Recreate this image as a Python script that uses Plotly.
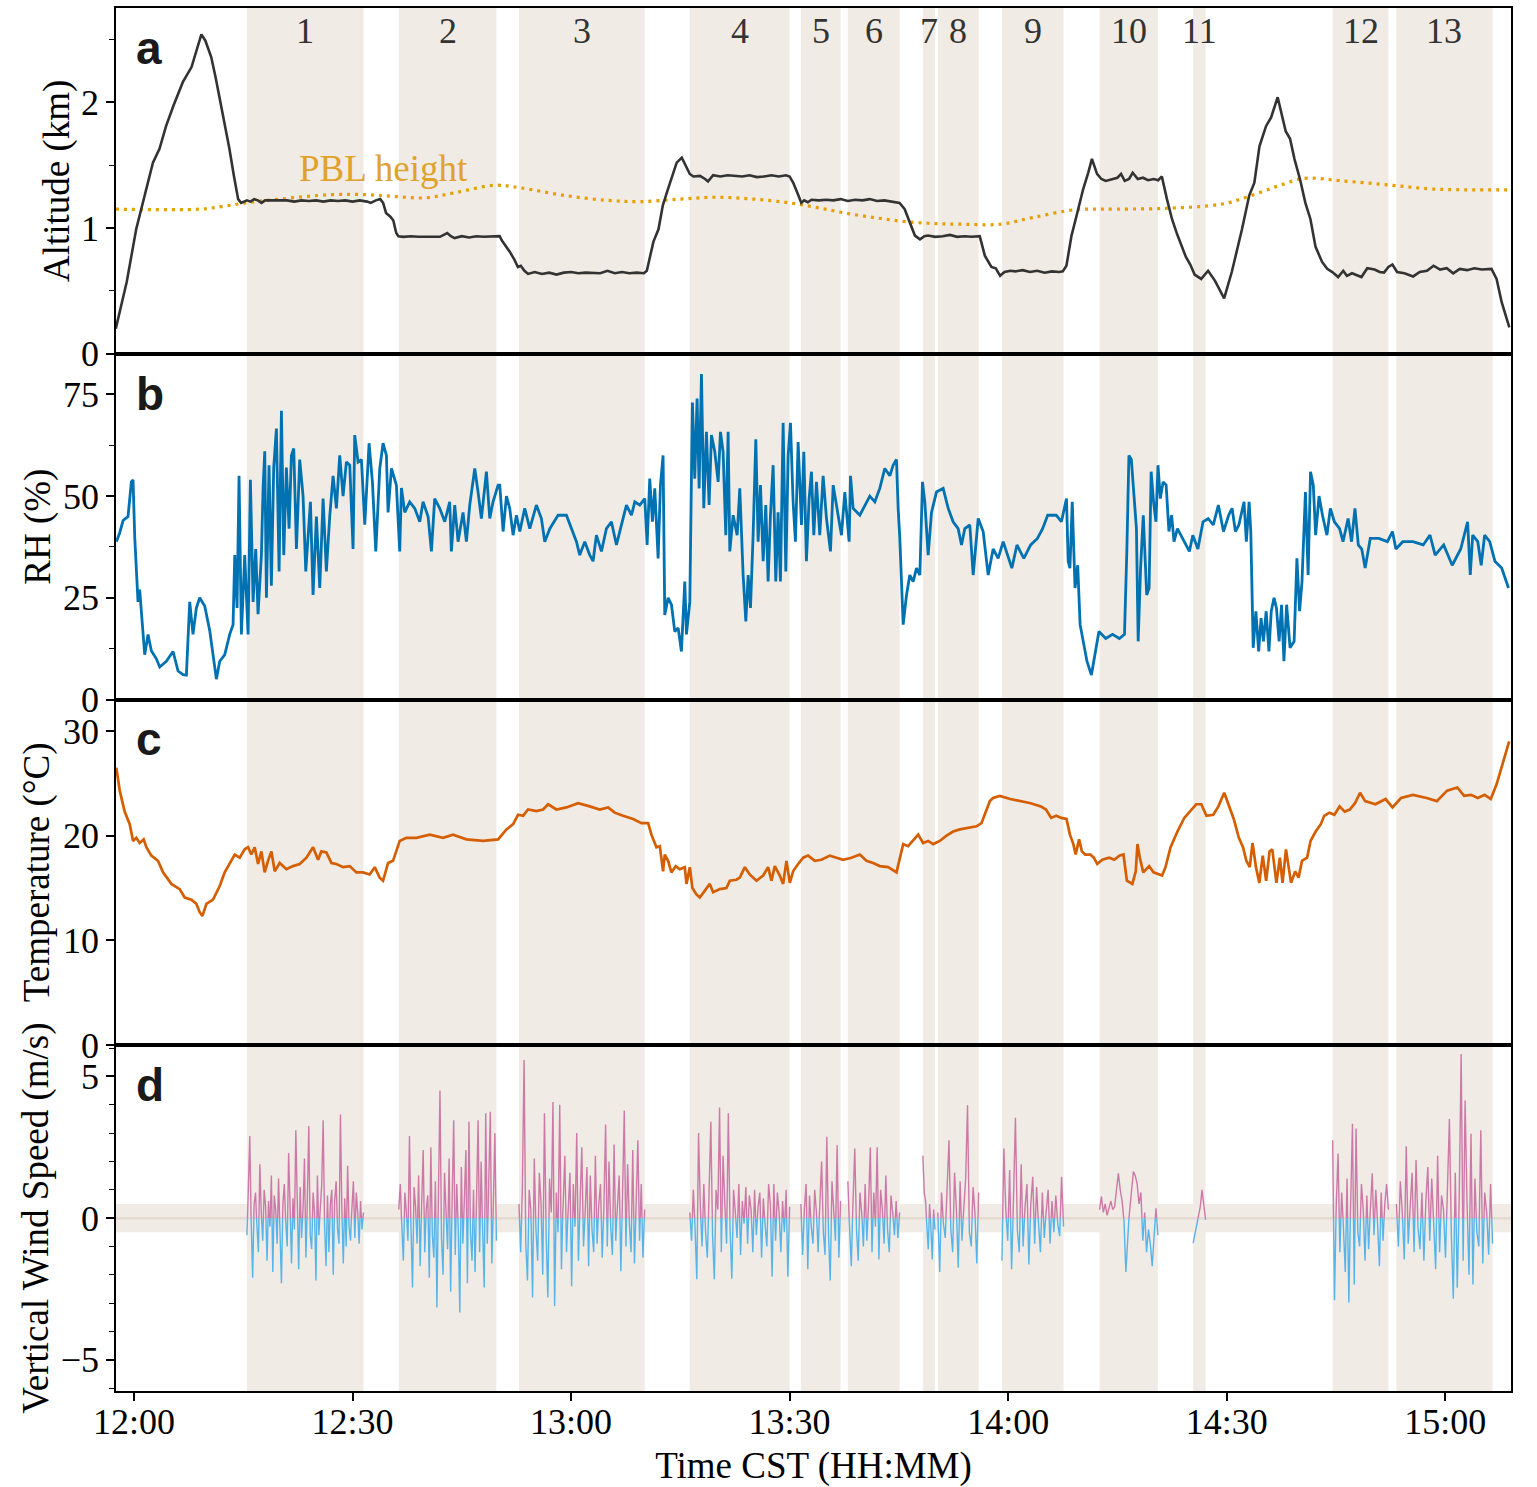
import numpy as np
import plotly.graph_objects as go
from plotly.subplots import make_subplots

# ---------------- data (time in minutes after 12:00 CST) ----------------
tick_vals = [0, 30, 60, 90, 120, 150, 180]
tick_text = ["12:00", "12:30", "13:00", "13:30", "14:00", "14:30", "15:00"]

region_labels = ["1", "2", "3", "4", "5", "6", "7", "8", "9", "10", "11", "12", "13"]
region_start = [15.5, 36.35, 52.85, 76.3, 91.55, 98.0, 108.3, 110.35, 119.15, 132.55, 145.4, 164.55, 173.3]
region_end = [31.5, 49.75, 70.1, 90.0, 97.0, 105.1, 109.95, 115.95, 127.6, 140.55, 147.1, 172.2, 186.5]

alt_t = [-2.5, -2.0, -1.0, 0.3, 1.0, 1.7, 2.6, 3.5, 4.4, 5.4, 6.0, 6.7, 7.9, 8.6, 9.25, 9.8, 10.6, 11.2, 11.8,
         12.5, 13.1, 13.7, 14.3, 14.7, 15.0, 15.5, 16.0, 16.5, 17.0, 17.5, 18.0, 19, 20, 21, 22, 23, 24, 25, 26,
         27, 28, 29, 30, 31, 32, 32.5, 33.2, 33.8, 34.2, 34.6, 35.2, 35.6, 36.0, 36.3, 37, 38, 39, 40, 41, 42,
         43, 43.5, 44, 45, 46, 47, 48, 49, 50.2, 50.5, 51.0, 51.6, 52.2, 52.7, 53.1, 53.6, 54.1, 55, 56, 57, 58,
         59, 60, 61, 62, 63, 64, 65, 66, 67, 68, 69, 70.0, 70.4, 70.8, 71.3, 72.0, 72.6, 73.3, 73.8, 74.5, 75.2,
         75.8, 76.3, 76.8, 77.7, 78.4, 78.8, 79.5, 80.5, 81.5, 82.5, 83.5, 84.5, 85.5, 86.5, 87.5, 88.5, 89.5,
         90.0, 90.5, 91.2, 91.6, 92.0, 92.5, 93, 94, 95, 96, 97, 98, 99, 100, 101, 102, 103, 104, 105.1, 105.8,
         106.5, 107.2, 107.9, 108.5, 109, 110, 111, 112, 113, 114, 115, 116.1, 116.8, 117.2, 117.7, 118.3, 118.9,
         119.5, 120.3, 121, 122, 123, 124, 125, 126, 127, 127.5, 128.0, 128.7, 129.4, 130.3, 131.0, 131.5, 132.2,
         132.8, 133.4, 134.2, 135.0, 135.5, 136.0, 136.6, 137.1, 137.8, 138.5, 139.2, 140, 140.6, 141.1, 141.8,
         142.5, 143.2, 144.4, 145.0, 145.6, 146.5, 147.45, 148.4, 149.0, 149.65, 150.7, 151.4, 152.1, 153.1,
         153.8, 154.5, 155.4, 156.1, 157.0, 158.1, 158.7, 159.3, 160.1, 160.8, 161.5, 162.2, 163.1, 163.8, 164.5,
         165.3, 166, 166.5, 167.2, 168.5, 169.3, 170.3, 171.0, 171.6, 172.2, 172.75, 173.4, 174.4, 175.6, 176.5,
         177.5, 178.4, 179.3, 180.2, 181.1, 182.0, 183.0, 184, 185, 186.35, 187.05, 187.75, 188.8]
alt_km = [0.2, 0.33, 0.57, 0.99, 1.15, 1.31, 1.52, 1.63, 1.81, 1.97, 2.06, 2.16, 2.28, 2.42, 2.54, 2.49, 2.36, 2.20,
          2.02, 1.82, 1.63, 1.42, 1.23, 1.20, 1.21, 1.22, 1.21, 1.23, 1.22, 1.20, 1.22, 1.22, 1.215, 1.22, 1.21,
          1.22, 1.215, 1.22, 1.21, 1.22, 1.215, 1.22, 1.21, 1.22, 1.21, 1.20, 1.22, 1.23, 1.20, 1.12, 1.09, 1.06,
          0.96, 0.935, 0.93, 0.935, 0.93, 0.93, 0.935, 0.93, 0.96, 0.935, 0.92, 0.935, 0.925, 0.935, 0.93, 0.935,
          0.935, 0.90, 0.86, 0.81, 0.75, 0.69, 0.70, 0.66, 0.635, 0.65, 0.635, 0.645, 0.63, 0.645, 0.65, 0.64,
          0.645, 0.64, 0.64, 0.66, 0.64, 0.65, 0.64, 0.645, 0.64, 0.66, 0.76, 0.89, 0.99, 1.18, 1.31, 1.40, 1.52,
          1.56, 1.49, 1.43, 1.41, 1.415, 1.39, 1.37, 1.42, 1.41, 1.42, 1.415, 1.41, 1.42, 1.405, 1.41, 1.42, 1.41,
          1.42, 1.41, 1.36, 1.26, 1.20, 1.22, 1.205, 1.225, 1.22, 1.225, 1.22, 1.23, 1.215, 1.225, 1.22, 1.23,
          1.215, 1.22, 1.21, 1.20, 1.15, 1.045, 0.94, 0.91, 0.935, 0.94, 0.93, 0.935, 0.945, 0.93, 0.935, 0.93,
          0.935, 0.78, 0.74, 0.69, 0.68, 0.62, 0.65, 0.66, 0.655, 0.665, 0.65, 0.66, 0.645, 0.655, 0.65, 0.655,
          0.70, 0.94, 1.10, 1.31, 1.44, 1.55, 1.43, 1.39, 1.375, 1.39, 1.40, 1.43, 1.375, 1.39, 1.44, 1.39, 1.40,
          1.38, 1.39, 1.38, 1.41, 1.23, 1.07, 0.95, 0.77, 0.71, 0.63, 0.595, 0.66, 0.58, 0.51, 0.44, 0.65, 0.82,
          0.99, 1.26, 1.36, 1.65, 1.81, 1.88, 2.04, 1.77, 1.71, 1.55, 1.38, 1.20, 1.07, 0.85, 0.73, 0.675, 0.65,
          0.61, 0.66, 0.62, 0.64, 0.61, 0.68, 0.67, 0.65, 0.645, 0.69, 0.71, 0.65, 0.64, 0.615, 0.65, 0.66, 0.70,
          0.67, 0.68, 0.64, 0.675, 0.665, 0.68, 0.67, 0.675, 0.595, 0.41, 0.21]

pbl_t = [-2.5, 9.0, 12, 15.4, 20, 27, 32, 36, 40, 44, 49.5, 53, 59, 65, 69.5, 75, 80, 85, 90, 94, 98, 102, 106,
         110, 114, 118.9, 123.5, 129.2, 132.9, 141.35, 149.3, 152.6, 156.35, 159.2, 161.05, 165.7, 172.75, 178.4,
         189.0]
pbl_km = [1.15, 1.15, 1.17, 1.20, 1.23, 1.265, 1.265, 1.25, 1.24, 1.28, 1.34, 1.32, 1.26, 1.22, 1.21, 1.23,
          1.245, 1.23, 1.20, 1.16, 1.115, 1.08, 1.05, 1.035, 1.03, 1.03, 1.085, 1.146, 1.15, 1.156, 1.19, 1.243,
          1.32, 1.376, 1.397, 1.376, 1.34, 1.31, 1.304]

rh_t = [-2.42, -1.96, -1.50, -0.82, -0.36, -0.13, 0.10, 0.33, 0.55, 0.78, 1.15, 1.47, 1.93, 2.38, 3.07, 3.53,
        4.44, 5.36, 6.05, 6.73, 7.19, 7.65, 8.10, 8.56, 9.02, 9.71, 10.39, 11.31, 11.77, 12.45, 13.14, 13.60,
        13.83, 14.15, 14.42, 14.74, 15.20, 15.66, 15.98, 16.35, 16.71, 17.03, 17.49, 17.72, 17.95, 18.18, 18.54,
        18.86, 19.18, 19.55, 19.92, 20.24, 20.56, 20.92, 21.29, 21.61, 21.93, 22.30, 22.75, 23.21, 23.58, 23.90,
        24.22, 24.58, 25.04, 25.50, 25.96, 26.41, 26.87, 27.33, 27.79, 28.24, 28.70, 29.16, 29.62, 30.07, 30.30,
        30.76, 31.22, 31.68, 32.27, 32.73, 33.19, 33.74, 34.19, 34.65, 34.88, 35.34, 36.02, 36.48, 36.71, 37.17,
        37.85, 38.54, 39.23, 39.68, 40.37, 40.83, 41.28, 41.97, 42.66, 43.34, 43.57, 44.03, 44.49, 45.17, 45.63,
        46.09, 46.78, 47.23, 47.69, 48.38, 48.84, 49.29, 49.98, 50.21, 50.67, 51.13, 51.58, 52.04, 52.50, 52.96,
        53.64, 54.33, 55.24, 55.93, 56.39, 57.08, 58.22, 59.36, 60.05, 60.74, 61.19, 61.88, 62.57, 63.02, 63.48,
        64.17, 64.85, 65.54, 66.23, 66.91, 67.60, 68.29, 68.75, 69.43, 70.12, 70.44, 70.80, 71.17, 71.49, 71.95,
        72.27, 72.63, 72.86, 73.32, 73.78, 74.24, 74.70, 75.15, 75.61, 75.84, 76.30, 76.66, 76.98, 77.30, 77.58,
        77.90, 78.22, 78.58, 78.95, 79.27, 79.73, 80.19, 80.51, 80.87, 81.24, 81.56, 81.79, 82.25, 82.80, 83.16,
        83.62, 83.99, 84.31, 84.63, 84.99, 85.36, 85.68, 86.00, 86.37, 86.73, 87.05, 87.37, 87.74, 88.10, 88.42,
        88.74, 89.11, 89.48, 89.80, 90.12, 90.48, 90.80, 91.17, 91.63, 91.95, 92.31, 92.68, 93.00, 93.32, 93.69,
        94.14, 94.60, 95.06, 95.61, 95.98, 96.66, 97.12, 97.58, 98.17, 98.36, 98.72, 99.64, 100.32, 101.01,
        101.70, 102.38, 103.07, 103.76, 104.21, 104.67, 104.90, 105.13, 105.59, 106.05, 106.50, 106.96, 107.42,
        107.88, 108.24, 108.56, 109.02, 109.48, 110.16, 111.08, 111.77, 112.45, 113.14, 113.60, 114.05, 114.74,
        115.20, 115.89, 116.57, 117.26, 117.94, 118.63, 119.32, 120.51, 121.21, 122.15, 123.09, 124.02, 124.73,
        125.43, 126.60, 127.31, 128.01, 128.24, 128.48, 128.80, 129.18, 129.55, 129.88, 130.35, 130.82, 131.43,
        131.99, 132.46, 133.40, 134.33, 135.27, 135.97, 136.30, 136.58, 136.91, 137.24, 137.61, 137.85, 138.18,
        138.55, 139.02, 139.35, 139.63, 139.96, 140.29, 140.57, 140.89, 141.27, 141.69, 142.07, 142.44, 142.77,
        143.24, 143.71, 144.41, 144.88, 145.35, 146.05, 146.75, 147.46, 148.16, 148.86, 149.56, 150.27, 150.74,
        151.20, 151.67, 152.38, 152.70, 153.08, 153.31, 153.64, 154.01, 154.39, 154.72, 155.05, 155.42, 155.80,
        156.12, 156.50, 156.83, 157.20, 157.53, 157.86, 158.23, 158.70, 159.26, 159.64, 160.01, 160.34, 160.81,
        161.18, 161.51, 161.89, 162.21, 162.68, 163.15, 163.76, 164.23, 164.79, 165.50, 165.97, 166.67, 167.14,
        167.61, 168.07, 168.54, 169.01, 169.71, 170.89, 172.06, 172.76, 173.23, 174.17, 175.57, 176.98, 177.91,
        178.62, 179.79, 180.96, 182.13, 183.07, 183.44, 183.77, 184.47, 184.94, 185.41, 186.11, 186.82, 187.75,
        188.69]
rh_pct = [38.8, 41, 44, 45, 53.5, 54, 40, 32, 24, 27, 18, 11, 16, 12, 10, 8, 9.4, 11.8, 7, 6.1, 6, 24, 16, 22.5,
          25, 23, 17, 5, 9.4, 11, 16, 18.4, 35.5, 22.5, 55, 16, 35.5, 16, 54, 24, 37, 21, 35.5, 52, 61, 25, 57.6,
          28, 57, 66.6, 31.5, 71, 35.5, 57, 42, 60, 61.7, 37, 59, 50, 31.5, 40.4, 48.6, 25.7, 45, 27.4, 49.4,
          31.5, 45, 55, 47, 60, 50, 58.4, 57.6, 37, 65, 58.4, 59, 43, 63, 53.5, 36.4, 56.8, 63, 60, 46, 56.8,
          52.7, 36.4, 52, 46, 48.6, 47, 43.7, 48.6, 45, 36.4, 49.4, 47, 43.7, 48.6, 36.4, 47.8, 38.8, 46, 38.8,
          47.8, 56.8, 51, 44.5, 56, 44.5, 48.6, 52.7, 52.7, 41.3, 50, 47, 40.4, 45.3, 41.3, 47, 42, 47.8, 44.5,
          38.8, 42, 45.3, 45.3, 42, 38.8, 35.5, 38.8, 35.5, 34, 40.4, 36.4, 42, 43.7, 38, 42.9, 47.8, 45.3, 48.6,
          47.8, 49.4, 38, 54.3, 43.7, 51.9, 34.7, 52.7, 60, 20.8, 25, 23.3, 16.7, 17.6, 11.8, 29, 16, 24, 73,
          54.3, 74, 51.9, 80, 47, 65.8, 47.8, 65, 60.9, 53.5, 65.8, 60.9, 40.4, 65.8, 36.4, 45.3, 40.4, 51.9,
          30.6, 19.2, 30.6, 22.5, 40.4, 64, 38.8, 52.7, 34, 47.8, 29, 45.3, 57.6, 29, 46, 29, 68, 31.5, 60, 68,
          48.6, 38.8, 63.3, 42.9, 60.9, 34, 49.4, 56, 40.4, 53.5, 40.4, 55, 44.5, 36.4, 52.7, 45.3, 40.4, 51,
          38.8, 55, 47, 45.3, 47.8, 50, 48.6, 51.9, 56.8, 55, 57.6, 59, 47, 39.6, 18.4, 25.7, 30.6, 29, 32.3,
          30.6, 53.5, 48.6, 35.5, 46, 51, 51.9, 47, 43.7, 42, 38, 42, 42.9, 30.6, 44.5, 41.3, 30.6, 37, 34.7,
          38.8, 32.3, 38, 34.7, 38, 39.6, 42, 45.3, 45.3, 43.7, 49.4, 34, 32.3, 48.6, 27.4, 33, 18.4, 13.5, 9.4,
          6, 11.8, 16.7, 15, 16, 15, 16, 37, 60, 59, 51, 42, 14.3, 32.3, 45.3, 25.7, 27.4, 56, 48.6, 43.7, 57.6,
          49.4, 53.5, 52.7, 41.3, 45.3, 38.8, 42, 40.4, 38, 36.4, 40.4, 37, 43.7, 44.5, 42.9, 47.8, 41.3, 45.3,
          47, 41.3, 42.9, 48.6, 38.8, 48.6, 41.3, 12.7, 21.7, 11.8, 20, 14.3, 21.7, 11.8, 21.7, 25, 22.5, 14.3,
          23.3, 9.4, 23.3, 12.7, 14.3, 34.7, 21.7, 29, 51, 30.6, 56, 52.7, 40.4, 50, 45.3, 40.4, 47, 43.7, 42,
          38.8, 44.5, 38.8, 47, 38, 37, 32.3, 39.6, 39.6, 38.8, 41.3, 37, 38.8, 38.8, 38, 40.4, 35.5, 38, 33,
          37, 43.7, 30.6, 40.4, 38.8, 33, 40.4, 38.8, 34, 32.3, 27.4]

temp_t = [-2.42, -1.96, -1.28, -0.59, -0.13, 0.32, 0.78, 1.33, 1.70, 2.38, 3.30, 3.99, 5.13, 6.27, 6.96, 7.88,
          8.56, 9.02, 9.39, 9.94, 10.85, 11.77, 12.45, 13.14, 13.83, 14.51, 15.20, 15.66, 16.11, 16.57, 17.03,
          17.49, 17.94, 18.40, 18.86, 19.32, 20.00, 20.92, 21.83, 22.75, 23.67, 24.58, 25.27, 25.72, 26.41, 27.10,
          27.78, 28.70, 29.61, 30.53, 31.44, 32.36, 33.05, 33.73, 34.19, 34.88, 35.56, 36.48, 37.39, 38.77, 40.60,
          42.43, 43.80, 45.63, 47.92, 49.98, 51.13, 52.04, 52.73, 53.41, 54.10, 55.24, 56.16, 56.85, 57.99, 59.36,
          60.97, 62.57, 63.94, 65.08, 66.00, 67.14, 68.52, 69.66, 70.58, 71.03, 71.72, 72.18, 72.63, 72.86, 73.32,
          73.78, 74.37, 74.92, 75.61, 75.84, 76.30, 76.66, 77.21, 77.67, 78.36, 79.04, 79.50, 80.42, 81.33, 81.79,
          82.70, 83.16, 83.85, 84.53, 85.45, 86.37, 87.05, 87.51, 87.97, 88.65, 89.11, 89.57, 90.03, 90.48, 91.17,
          91.86, 92.54, 93.46, 94.37, 95.52, 96.43, 97.35, 98.49, 99.64, 100.55, 101.47, 102.38, 103.53, 104.67,
          105.13, 105.59, 106.27, 107.19, 107.65, 108.33, 109.02, 109.71, 110.62, 111.54, 112.45, 113.37, 114.74,
          115.66, 116.34, 116.80, 117.49, 117.94, 118.86, 120.28, 121.68, 123.09, 124.49, 125.20, 125.90, 126.60,
          127.30, 128.01, 128.48, 128.95, 129.27, 129.74, 130.12, 130.58, 131.29, 131.76, 132.23, 132.93, 133.87,
          134.57, 135.27, 135.83, 136.30, 137.05, 137.52, 137.75, 138.08, 138.55, 139.35, 139.96, 141.13, 141.60,
          142.30, 143.24, 144.18, 144.88, 145.81, 146.52, 147.22, 148.16, 148.86, 149.66, 150.27, 150.97, 151.67,
          152.24, 152.70, 153.17, 153.55, 154.02, 154.48, 154.95, 155.42, 155.89, 156.26, 156.83, 157.30, 157.67,
          158.14, 158.47, 158.84, 159.40, 159.87, 160.34, 161.04, 161.51, 162.22, 162.92, 163.39, 164.09, 164.79,
          165.50, 166.20, 166.90, 167.61, 168.31, 169.01, 170.42, 171.82, 172.76, 173.93, 175.57, 177.45, 178.85,
          180.26, 181.66, 182.60, 183.54, 184.47, 185.41, 186.25, 187.05, 187.75, 188.22, 188.78]
temp_c = [26.5, 24.3, 22.3, 21.1, 19.5, 19.8, 19.3, 19.65, 18.9, 18.1, 17.6, 16.5, 15.4, 14.9, 14.1, 13.9, 13.5,
          12.7, 12.35, 13.5, 13.9, 15.2, 16.5, 17.3, 18.2, 17.9, 18.7, 18.9, 18.2, 18.9, 17.3, 18.5, 16.5, 17.6,
          18.5, 16.6, 17.4, 16.8, 17.1, 17.3, 17.9, 18.9, 17.7, 18.5, 18.4, 17.4, 17.3, 17.0, 17.1, 16.5, 16.5,
          16.3, 17.0, 16.0, 15.7, 17.4, 17.6, 19.5, 19.8, 19.8, 20.1, 19.8, 20.1, 19.65, 19.5, 19.65, 20.6, 21.1,
          22.0, 21.9, 22.5, 22.35, 22.5, 23.0, 22.5, 22.7, 23.1, 22.8, 22.5, 22.7, 22.2, 21.9, 21.6, 21.2, 21.2,
          20.1, 18.9, 19.0, 16.6, 18.2, 17.6, 16.5, 17.1, 16.8, 17.0, 15.4, 17.0, 15.0, 14.4, 14.1, 14.7, 15.4,
          14.6, 14.9, 15.0, 15.7, 15.8, 16.0, 17.0, 16.3, 15.7, 16.2, 17.0, 15.7, 17.1, 16.2, 15.4, 17.6, 15.5,
          16.6, 17.3, 17.9, 18.1, 17.6, 17.7, 18.1, 17.9, 17.7, 17.9, 18.2, 17.6, 17.4, 17.1, 17.0, 16.5, 17.9,
          19.2, 19.0, 19.8, 20.1, 19.3, 19.5, 19.2, 19.5, 20.0, 20.4, 20.6, 20.8, 20.9, 21.2, 22.0, 23.3, 23.6,
          23.8, 23.5, 23.3, 23.1, 22.8, 22.5, 21.7, 21.9, 21.7, 21.6, 20.1, 19.2, 18.2, 19.65, 18.5, 18.2, 18.2,
          17.9, 17.3, 17.7, 17.9, 17.7, 18.1, 18.2, 15.7, 15.4, 16.6, 19.2, 17.9, 16.5, 17.1, 16.5, 16.2, 17.0,
          18.9, 20.4, 21.7, 22.3, 23.0, 23.0, 21.9, 22.0, 22.8, 24.1, 23.0, 21.6, 19.8, 18.9, 17.6, 17.0, 19.3,
          17.0, 15.5, 18.1, 15.7, 18.5, 18.7, 15.5, 17.9, 15.5, 18.7, 17.0, 15.5, 16.6, 16.0, 17.6, 17.9, 19.5,
          20.4, 21.1, 21.9, 22.2, 22.0, 22.8, 22.3, 22.5, 23.1, 24.1, 23.3, 23.0, 23.5, 22.7, 23.6, 23.9, 23.6,
          23.3, 24.3, 24.6, 23.8, 23.9, 23.6, 23.9, 23.5, 24.9, 26.5, 27.7, 29.0]

# vertical wind speed (m/s), one list per flight leg (shaded region)
w1 = [-0.6, 0.8, 2.9, -0.3, -2.1, 0.5, 0.9, -0.4, -1.2, 1.9, 0.2, -0.8, 1.0, 0.4, -1.5, 0.6, -0.3, 1.5, -1.9, 0.8,
      0.3, -0.9, 1.4, -0.5, -2.3, 0.5, 1.2, -0.2, -1.0, 2.3, 0.4, -1.6, 0.7, -0.4, 3.1, 0.6, -1.8, 1.1, -0.7, 0.3,
      2.1, -1.4, 0.5, 3.25, -0.6, -1.1, 0.9, 0.2, -2.2, 1.5, -0.6, 0.4, 1.2, 3.45, -0.3, -1.7, 0.8, -1.2, 0.5, 1.0,
      -2.0, 0.6, 1.3, -0.4, -0.9, 3.66, 0.3, -1.6, 0.7, -1.0, 1.85, -0.3, -0.8, 0.5, 1.3, -0.7, 0.9, 0.2, -0.9,
      0.6, -0.4, 0.2]
w2 = [0.3, 1.2, -0.4, -1.5, 0.9, 0.2, -0.8, 2.9, -0.5, -2.45, 1.1, 0.4, -0.9, 1.5, -1.7, 0.6, 2.4, -1.2, 0.3, 0.8,
      -2.1, 2.5, -0.6, -1.4, 1.3, -3.15, 0.9, 4.5, -0.7, -2.0, 1.6, 0.2, -1.1, 2.1, -2.6, 0.8, 3.45, -1.3, 1.2,
      -0.4, -3.33, 1.8, -0.9, 0.6, 2.4, -2.3, 3.4, -0.5, -1.5, 1.0, -1.9, 0.7, 3.45, -1.2, 2.0, -0.6, -2.45, 3.7,
      -0.9, 1.1, 3.75, -1.6, 0.4, 3.0, -0.8]
w3 = [0.5, -1.2, 1.1, 5.58, -0.9, -2.2, 1.0, 0.3, -2.8, 2.1, -0.4, -1.5, 1.6, 0.5, -2.0, 3.7, -0.6, -2.8, 1.4, 0.2,
      4.1, -3.1, 0.9, -0.5, 4.0, -1.8, 0.7, 2.2, -1.2, 0.4, 1.6, -2.4, 1.2, -0.3, 3.0, -1.5, 0.6, 2.5, -1.0, 0.2,
      1.8, -1.7, 1.5, -0.4, -1.2, 2.2, -0.9, 0.5, 1.2, -1.4, 0.4, 3.3, -1.0, 2.0, -0.3, -1.3, 2.6, -0.8, 0.6, 1.5,
      -1.87, 0.8, 3.8, -1.0, 1.9, -0.2, -1.2, 2.4, -1.6, 0.5, 2.75, -0.8, 1.2, -1.4, 0.3]
w4 = [0.2, -0.8, 1.0, -0.3, -2.16, 3.0, 0.4, -1.0, 1.2, -0.5, -1.4, 0.8, 3.4, -0.6, -2.16, 1.0, 0.3, 3.9, -1.2,
      2.2, 0.5, -0.9, 3.7, -0.4, -2.14, 1.0, 0.2, -0.7, 1.2, -1.3, 0.6, -0.2, 1.1, -0.9, 0.8, 0.3, -1.2, 1.0, -0.6,
      0.4, 0.9, -1.4, 0.7, -0.3, -1.0, 1.2, 0.5, -2.07, 1.2, -0.8, 0.9, 0.2, -1.2, 0.6, -0.5, 1.0, -2.07, 0.4]
w5 = [0.5, -1.3, 0.3, 1.2, -1.8, 0.8, -0.3, -0.9, 1.0, 0.2, -1.2, 0.7, 2.0, -0.5, -1.3, 2.87, -0.6, -2.2, 1.3, 0.3,
      -0.8, 2.57, -1.4, 0.6]
w6 = [1.3, -0.5, -1.7, 0.8, 2.46, -0.4, -1.5, 0.9, 0.2, -1.0, 1.2, -0.8, 0.5, 2.5, -1.2, 0.9, -0.3, 2.5, -1.46,
      1.0, 0.3, -0.9, 1.5, -0.4, -1.2, 0.8, 0.2, -0.6, 0.6, -0.7, 0.2]
w7 = [2.2, 0.9, 0.6, -0.4, -1.1, 0.5, -0.3, -1.46, 0.3, -0.4]
w8 = [0.2, -1.9, 0.9, -0.2, -0.7, 1.2, 2.75, -0.4, -1.2, 1.6, 0.3, -1.75, 1.3, -0.8, 0.4, 1.4, 3.98, -0.5, -1.0,
      1.1, 0.2, -1.6, 0.9]
w9 = [-1.5, 2.46, 0.3, -0.8, 1.7, -1.8, 0.6, 3.54, -0.4, -1.2, 1.9, -1.0, 0.4, 1.2, -1.64, 0.5, 1.46, -0.9, 1.1,
      -0.2, -1.2, 0.9, -0.7, 0.3, 1.0, -0.9, 0.6, -0.5, 0.8, -0.2, -0.64, 1.46, -0.3]
w10 = [0.3, 0.76, 0.2, 0.5, 0.1, 0.4, 0.6, 0.3, 0.4, 1.0, 1.58, 1.0, 0.6, -0.1, -1.9, -0.5, 0.3, 0.9, 1.64, 1.5,
       1.2, 0.5, 0.9, -0.8, 0.2, -1.2, -0.4, -0.9, -1.7, -0.6, 0.35, -0.6]
w11 = [-0.88, -0.6, -0.3, 0.1, 0.4, 1.0, 0.5, -0.06]
w12 = [2.75, -2.9, 0.5, 2.28, -1.2, 0.9, -0.3, -1.9, 1.4, -2.98, 0.6, 3.33, -2.34, 3.16, -0.5, -1.0, 1.2, 0.3,
       -1.5, 0.8, -1.1, 0.4, 1.58, -0.6, 1.0, -0.2, -1.7, 0.9, -0.8, 0.5, 1.2, 0.3]
w13 = [0.5, -1.0, 1.3, 0.2, -1.46, 2.54, -0.9, 0.4, 1.6, -1.2, 2.05, -0.3, -1.1, 0.9, -1.5, 0.6, 1.8, -0.8, 1.4,
       -0.2, -1.8, 2.2, -1.2, 0.8, 0.3, -1.4, 1.0, 3.5, -0.6, -2.84, 1.6, -2.46, 0.7, 5.79, -1.5, 4.15, 0.5, -2.0,
       2.98, -2.34, 1.4, -0.5, -1.0, 3.1, -1.6, 0.9, 0.2, -1.29, 1.2, -0.9]
wind_legs = [w1, w2, w3, w4, w5, w6, w7, w8, w9, w10, w11, w12, w13]

# ---------------- styling ----------------
SERIF = "Liberation Serif, Times New Roman, serif"
SANS = "Liberation Sans, Arial, sans-serif"
SHADE = "#F0EBE5"
PINK = "#CC79A7"
SKY = "#56B4E9"

fig = make_subplots(rows=4, cols=1, shared_xaxes=True, vertical_spacing=0)

# panel a
fig.add_trace(go.Scatter(x=pbl_t, y=pbl_km, mode="lines",
                         line=dict(color="#E69F00", width=3.2, dash="3px,5px", shape="spline"),
                         showlegend=False, hoverinfo="skip"), row=1, col=1)
fig.add_trace(go.Scatter(x=alt_t, y=alt_km, mode="lines", line=dict(color="#333333", width=2.6),
                         showlegend=False), row=1, col=1)
# panel b
fig.add_trace(go.Scatter(x=rh_t, y=rh_pct, mode="lines", line=dict(color="#0072B2", width=2.8),
                         showlegend=False), row=2, col=1)
# panel c
fig.add_trace(go.Scatter(x=temp_t, y=temp_c, mode="lines", line=dict(color="#D55E00", width=2.7),
                         showlegend=False), row=3, col=1)

# panel d: split each leg into upward (pink) and downward (blue) parts
pos_x, pos_y, neg_x, neg_y = [], [], [], []
for s, e, w in zip(region_start, region_end, wind_legs):
    ts = np.linspace(s, e, len(w))
    for i, (t, v) in enumerate(zip(ts, w)):
        if i > 0:
            t0, v0 = ts[i - 1], w[i - 1]
            if (v0 > 0 > v) or (v0 < 0 < v):
                tc = float(t0 + (t - t0) * v0 / (v0 - v))
                pos_x.append(tc); pos_y.append(0.0)
                neg_x.append(tc); neg_y.append(0.0)
                if v < 0:
                    pos_x.append(None); pos_y.append(None)
                else:
                    neg_x.append(None); neg_y.append(None)
        if v >= 0:
            pos_x.append(float(t)); pos_y.append(v)
        else:
            neg_x.append(float(t)); neg_y.append(v)
    pos_x.append(None); pos_y.append(None)
    neg_x.append(None); neg_y.append(None)

fig.add_trace(go.Scatter(x=neg_x, y=neg_y, mode="lines", line=dict(color=SKY, width=1.4),
                         connectgaps=False, showlegend=False), row=4, col=1)
fig.add_trace(go.Scatter(x=pos_x, y=pos_y, mode="lines", line=dict(color=PINK, width=1.4),
                         connectgaps=False, showlegend=False), row=4, col=1)

# shaded flight legs
shapes = []
for s, e in zip(region_start, region_end):
    shapes.append(dict(type="rect", xref="x4", yref="paper", x0=s, x1=e, y0=0, y1=1,
                       fillcolor=SHADE, line=dict(width=0), layer="below"))
shapes.append(dict(type="rect", xref="x4 domain", yref="y4", x0=0, x1=1, y0=-0.5, y1=0.5,
                   fillcolor=SHADE, line=dict(width=0), layer="below"))
shapes.append(dict(type="line", xref="x4 domain", yref="y4", x0=0, x1=1, y0=0, y1=0,
                   line=dict(color="#E3DAD0", width=2.5), layer="below"))

annotations = []
for lab, s, e in zip(region_labels, region_start, region_end):
    annotations.append(dict(x=(s + e) / 2, y=2.565, xref="x", yref="y", text=lab, showarrow=False,
                            font=dict(family=SERIF, size=36, color="#333333")))
annotations.append(dict(x=34.2, y=1.47, xref="x", yref="y", text="PBL height", showarrow=False,
                        font=dict(family=SERIF, size=37, color="#E1A22C")))
for i, lab in enumerate(["a", "b", "c", "d"]):
    ax = "" if i == 0 else str(i + 1)
    annotations.append(dict(x=0.013, y=0.885, xref="x%s domain" % ax, yref="y%s domain" % ax,
                            text="<b>%s</b>" % lab, showarrow=False, xanchor="left", yanchor="middle",
                            font=dict(family=SANS, size=46, color="#1a1a1a")))

axis_common = dict(showline=True, linecolor="black", linewidth=1.6, mirror=True, showgrid=False, zeroline=False,
                   ticks="outside", ticklen=8, tickwidth=1.5, tickcolor="black",
                   tickfont=dict(family=SERIF, size=36, color="black"))

fig.update_layout(
    width=1537, height=1487,
    margin=dict(l=116, r=26, t=6, b=96),
    paper_bgcolor="white", plot_bgcolor="rgba(0,0,0,0)",
    shapes=shapes, annotations=annotations, showlegend=False,
    font=dict(family=SERIF, size=36, color="black"),
)

for r in range(1, 5):
    fig.update_xaxes(range=[-2.47, 189.03], row=r, col=1, showline=True, linecolor="black", linewidth=1.6,
                     mirror=True, showgrid=False, zeroline=False)
for r in range(1, 4):
    fig.update_xaxes(ticks="", showticklabels=False, row=r, col=1)
fig.update_xaxes(tickvals=tick_vals, ticktext=tick_text, ticks="outside", ticklen=8, tickwidth=1.5,
                 tickcolor="black", tickfont=dict(family=SERIF, size=36, color="black"), showticklabels=True,
                 ticklabelstandoff=-10,
                 title=dict(text="Time CST (HH:MM)", font=dict(family=SERIF, size=37), standoff=13), row=4, col=1)

minor_common = dict(ticks="outside", ticklen=5, tickwidth=1.3, tickcolor="black", showgrid=False)
fig.update_yaxes(axis_common, range=[0, 2.75], tickvals=[0, 1, 2],
                 minor=dict(minor_common, dtick=0.5, tick0=0),
                 title=dict(text="Altitude (km)", font=dict(family=SERIF, size=37), standoff=0), row=1, col=1)
fig.update_yaxes(axis_common, range=[0, 85], tickvals=[0, 25, 50, 75],
                 minor=dict(minor_common, dtick=12.5, tick0=0),
                 title=dict(text="RH (%)", font=dict(family=SERIF, size=37), standoff=1), row=2, col=1)
fig.update_yaxes(axis_common, range=[0, 33], tickvals=[0, 10, 20, 30],
                 title=dict(text="Temperature (°C)", font=dict(family=SERIF, size=37), standoff=2), row=3, col=1)
fig.update_yaxes(axis_common, range=[-6.1, 6.1], tickvals=[-5, 0, 5],
                 minor=dict(minor_common, dtick=1, tick0=0),
                 title=dict(text="Vertical Wind Speed (m/s)", font=dict(family=SERIF, size=37), standoff=1),
                 row=4, col=1)

fig.write_html("out.html")
